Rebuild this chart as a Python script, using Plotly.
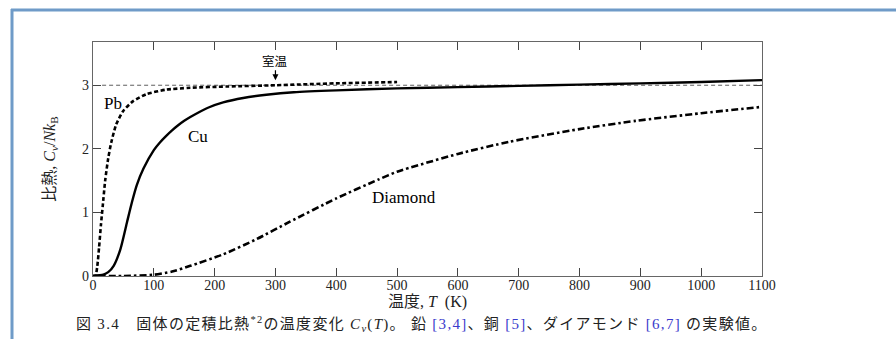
import plotly.graph_objects as go

# ---- data ----
pb_T = [0, 4, 7, 10, 13, 16, 20, 25, 30, 38, 50, 66, 88, 120, 160, 220, 300, 400, 500]
pb_C = [0, 0.0, 0.15, 0.45, 0.8, 1.1, 1.5, 1.85, 2.1, 2.38, 2.6, 2.75, 2.86, 2.93, 2.96, 2.98, 3.0, 3.03, 3.05]

cu_T = [0, 17, 25, 34, 45, 56, 64, 72, 83, 100, 110, 120, 130, 140, 150, 160, 175, 190, 214, 247, 285, 330, 400, 500, 600, 700, 800, 900, 1000, 1100]
cu_C = [0, 0.02, 0.06, 0.16, 0.42, 0.85, 1.16, 1.43, 1.69, 1.98, 2.1, 2.2, 2.29, 2.37, 2.44, 2.5, 2.58, 2.65, 2.73, 2.8, 2.85, 2.89, 2.92, 2.95, 2.97, 2.99, 3.01, 3.03, 3.05, 3.08]

dia_T = [0, 50, 100, 130, 160, 214, 269, 323, 400, 470, 500, 600, 684, 800, 892, 1000, 1100]
dia_C = [0, 0.0, 0.02, 0.07, 0.16, 0.34, 0.58, 0.85, 1.22, 1.52, 1.64, 1.92, 2.11, 2.31, 2.44, 2.56, 2.66]

classical_T = [15, 1100]
classical_C = [3, 3]

x_ticks = [0, 100, 200, 300, 400, 500, 600, 700, 800, 900, 1000, 1100]
y_ticks = [0, 1, 2, 3]

labels = [("Pb", 33, 2.72), ("Cu", 172, 2.19), ("Diamond", 511, 1.23)]
room_T = 300

SERIF = "Liberation Serif, Times New Roman, Noto Sans CJK JP, serif"

fig = go.Figure()
fig.add_trace(go.Scatter(x=classical_T, y=classical_C, mode="lines",
                         line=dict(color="#333", width=0.8, dash="4px,3px"), hoverinfo="skip"))
fig.add_trace(go.Scatter(x=pb_T, y=pb_C, mode="lines", line_shape="spline",
                         line=dict(color="black", width=2.6, dash="4px,2.5px", smoothing=0.6)))
fig.add_trace(go.Scatter(x=cu_T, y=cu_C, mode="lines", line_shape="spline",
                         line=dict(color="black", width=2.4, smoothing=0.6)))
fig.add_trace(go.Scatter(x=dia_T, y=dia_C, mode="lines", line_shape="spline",
                         line=dict(color="black", width=2.6, dash="7px,3px,2.5px,3px", smoothing=0.6)))

for txt, xv, yv in labels:
    fig.add_annotation(x=xv, y=yv, text=txt, showarrow=False,
                       font=dict(family=SERIF, size=17, color="black"))

fig.add_annotation(x=room_T, y=3.08, ax=room_T, ay=3.37, axref="x", ayref="y",
                   text="室温", showarrow=True, arrowhead=2, arrowsize=1, arrowwidth=1.2,
                   arrowcolor="black", standoff=0,
                   font=dict(family=SERIF, size=12.5, color="black"))

BLUE = "color:#3a3acc"
caption = ("<span style='letter-spacing:1.3px'>図 3.4　固体の定積比熱<sup>*2</sup>の温度変化 "
           "<i>C</i><sub><i>v</i></sub>(<i>T</i>)。 鉛 "
           f"<span style='{BLUE}'>[3,4]</span>、銅 <span style='{BLUE}'>[5]</span>、"
           f"ダイアモンド <span style='{BLUE}'>[6,7]</span> の実験値。</span>")
L, R, T_, B = 93, 134, 42, 63
W, H = 896, 339
pw, ph = W - L - R, H - T_ - B
def px2x(p):
    return (p - L) / pw
def px2y(p):
    return (H - B - p) / ph

fig.add_annotation(x=px2x(74), y=px2y(324), xref="paper", yref="paper", xanchor="left", yanchor="middle",
                   text=caption, showarrow=False, font=dict(family=SERIF, size=15, color="#222"))

# slide frame
fig.add_shape(type="line", xref="paper", yref="paper", x0=px2x(12), x1=px2x(12), y0=px2y(9), y1=px2y(345),
              line=dict(color="#6f9bc8", width=3))
fig.add_shape(type="line", xref="paper", yref="paper", x0=px2x(11), x1=px2x(900), y0=px2y(10), y1=px2y(10),
              line=dict(color="#6f9bc8", width=3))

axis_common = dict(showline=True, linecolor="#666", linewidth=1.2, mirror="ticks", ticks="inside",
                   ticklen=8, tickcolor="#444", tickwidth=1, showgrid=False, zeroline=False,
                   tickfont=dict(family=SERIF, size=14, color="#222"))
fig.update_xaxes(range=[0, 1100], tickvals=x_ticks, ticklabelstandoff=-4,
                 title=dict(text="温度, <i>T</i>  (K)", font=dict(family=SERIF, size=16, color="#222"), standoff=0),
                 **axis_common)
fig.update_yaxes(range=[0, 3.68], tickvals=y_ticks,
                 title=dict(text="比熱, <i>C</i><sub><i>v</i></sub>/<i>Nk</i><sub>B</sub>",
                            font=dict(family=SERIF, size=16, color="#222"), standoff=22),
                 **axis_common)
fig.update_layout(width=W, height=H, margin=dict(l=L, r=R, t=T_, b=B, autoexpand=False),
                  plot_bgcolor="white", paper_bgcolor="white", showlegend=False)
fig.write_html("out.html", post_script="document.body.style.margin='0';",
               config={"displayModeBar": False})
